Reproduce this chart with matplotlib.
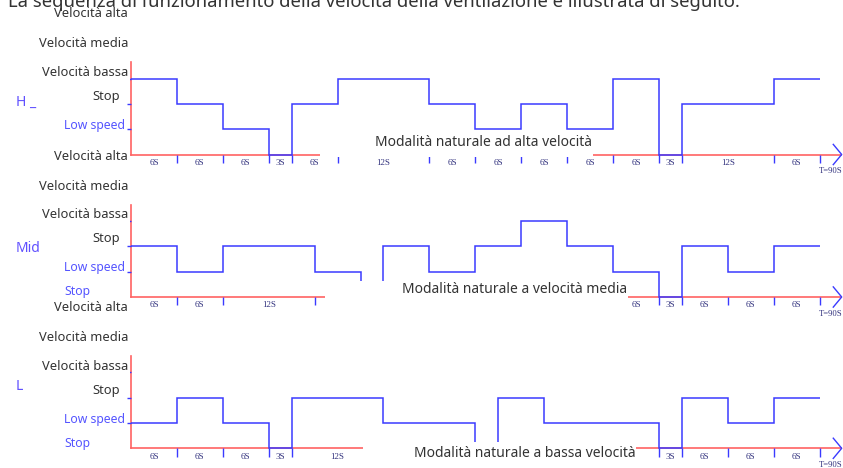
import matplotlib.pyplot as plt
from matplotlib.patches import Rectangle

plt.rcParams['font.family'] = ['Noto Sans', 'DejaVu Sans']

# segment durations (s) and speed level (0 stop, 1 low, 2 mid, 3 high)
high_dur = [6, 6, 6, 3, 6, 12, 6, 6, 6, 6, 6, 3, 12, 6]
high_lvl = [3, 2, 1, 0, 2, 3, 2, 1, 2, 1, 3, 0, 2, 3]
mid_dur = [6, 6, 12, 6, 3, 6, 6, 6, 6, 6, 6, 3, 6, 6, 6]
mid_lvl = [2, 1, 2, 1, 0, 2, 1, 2, 3, 2, 1, 0, 2, 1, 2]
low_dur = [6, 6, 6, 3, 12, 12, 3, 6, 15, 3, 6, 6, 6]
low_lvl = [1, 2, 1, 0, 2, 1, 0, 2, 1, 0, 2, 1, 2]

modes = ["Modalità naturale ad alta velocità",
         "Modalità naturale a velocità media",
         "Modalità naturale a bassa velocità"]
tags = ["H _", "Mid", "L"]
left_labels = ["Velocità alta", "Velocità media", "Velocità bassa", "Stop"]
# blue labels per panel (the lower "Stop" of the top panel is hidden in the original)
blue_labels = [["Low speed"], ["Low speed", "Stop"], ["Low speed", "Stop"]]
title = "La sequenza di funzionamento della velocità della ventilazione è illustrata di seguito."

W, H = 843, 468
X0, SX, SY = 131, 7.65, 25.3          # pixel origin of t=0 and scales
baselines = [154.5, 297, 448.3]        # pixel row of the time axis per panel
# white cover boxes (t0, t1, y0, y1) and mode text anchor (t, y)
covers = [(24.7, 60.4, -0.1, 0.89), (25.4, 65.0, -0.4, 0.63), (30.3, 66.0, -0.9, 0.26)]
mode_pos = [(60.3, 0.49), (64.9, 0.28), (66.0, -0.19)]

BLUE = '#3a3aff'
RED = '#ff6262'
TXT = '#333333'
LBLUE = '#5555ff'

fig = plt.figure(figsize=(W / 100, H / 100), dpi=100)
fig.text(8 / W, 1 - 7 / H, title, fontsize=13.3, color=TXT, va='baseline', ha='left')

for i, (dur, lvl) in enumerate([(high_dur, high_lvl), (mid_dur, mid_lvl), (low_dur, low_lvl)]):
    b = baselines[i]
    ax = fig.add_axes([0, 0, 1, 1])
    ax.set_xlim(-X0 / SX, (W - X0) / SX)
    ax.set_ylim(-(H - b) / SY, b / SY)
    ax.axis('off')
    ax.patch.set_alpha(0)

    edges = [0]
    for d in dur:
        edges.append(edges[-1] + d)

    # axes
    ax.plot([0, 92.8], [0, 0], color=RED, lw=1.2, zorder=2)
    ax.plot([0, 0], [0, 3.65], color=RED, lw=1.2, zorder=2)
    ax.plot([91.8, 92.9, 91.8], [0.4, 0, -0.4], color=BLUE, lw=1.0, zorder=3)
    ax.hlines([1, 2, 3], -0.5, 0, color=BLUE, lw=1.0)

    # speed sequence
    ax.stairs(lvl, edges, baseline=None, color=BLUE, lw=1.1, zorder=3)
    ax.vlines(edges[1:], -0.33, 0, color=BLUE, lw=1.0, zorder=3)
    t0, t1, y0, y1 = covers[i]
    for k, d in enumerate(dur):
        c = (edges[k] + edges[k + 1]) / 2
        if t0 < c < t1 and y0 <= -0.5:
            continue  # fully hidden under the mode box
        ax.text(c, -0.33, f"{d}S", fontsize=6.5,
                family='Liberation Serif', color='#33337f', ha='center', va='center')
    ax.text(91.5, -0.66, "T=90S", fontsize=6.2, family='Liberation Serif',
            color='#33337f', ha='center', va='center')

    # cover box + mode text
    ax.add_patch(Rectangle((t0, y0), t1 - t0, y1 - y0, facecolor='white',
                           edgecolor='none', zorder=5))
    ax.text(*mode_pos[i], modes[i], fontsize=10, color=TXT, ha='right',
            va='center', zorder=6)

    # left labels
    for lab, off in zip(left_labels, [-141, -111, -82, -58]):
        x = -0.4 if lab != "Stop" else -1.4
        ax.text(x, -off / SY, lab, fontsize=9.3, color=TXT, ha='right', va='center',
                bbox=dict(facecolor='white', edgecolor='none', pad=1.5), zorder=6)
    for lab, off in zip(blue_labels[i], [-29, -5]):
        ax.text(-(X0 - 64) / SX, -off / SY, lab, fontsize=8.8, color=LBLUE,
                ha='left', va='center', zorder=4)
    ax.text(-(X0 - 16) / SX, (b - [102, 249, 387][i]) / SY, tags[i], fontsize=10,
            color='#6050ff', ha='left', va='center', zorder=4)

fig.savefig('out.png', dpi=100)
